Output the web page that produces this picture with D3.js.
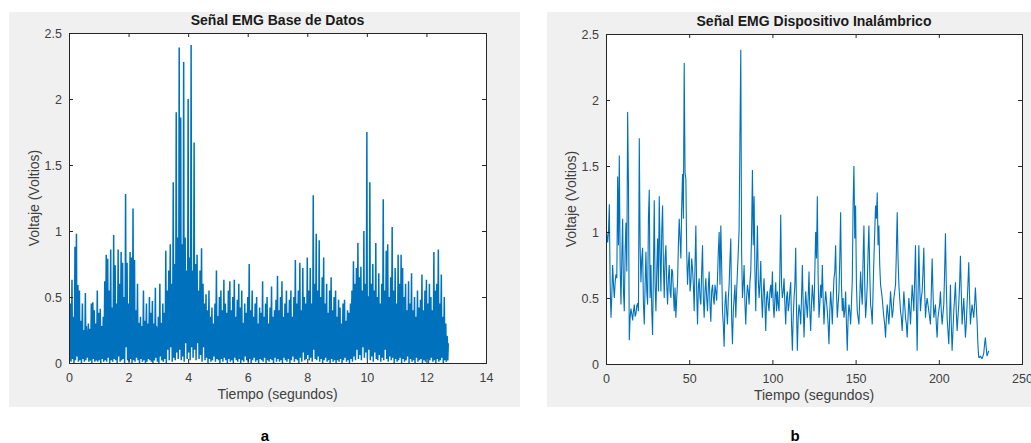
<!DOCTYPE html>
<html>
<head>
<meta charset="utf-8">
<script src="https://cdn.jsdelivr.net/npm/d3@7"></script>
<style>
  body { margin: 0; background: #fff; }
  svg { display: block; font-family: "Liberation Sans", Arial, sans-serif; }
</style>
</head>
<body>
<svg id="chart" width="1031" height="443"></svg>
<script>
// ---- data ----
var yTicks = [0, 0.5, 1, 1.5, 2, 2.5];
var xTicksA = [0, 2, 4, 6, 8, 10, 12, 14];
var xTicksB = [0, 50, 100, 150, 200, 250];

// panel a: rectified EMG, per 0.05 s bin: a peak, a trough, a smaller secondary peak
var stepA = 0.05;
var peaksA = [
	0.85,0.45,0.63,0.28,0.88,0.98,0.59,0.55,0.32,0.45,0.25,0.53,0.22,0.30,0.26,0.45,0.46,0.40,0.30,0.55,
	0.38,0.41,0.28,0.35,0.62,0.82,0.79,0.55,0.86,0.40,0.97,0.74,0.45,0.86,0.60,0.84,0.76,0.50,1.28,0.76,
	0.45,0.84,0.80,1.17,0.78,0.40,0.60,0.30,0.35,0.28,0.55,0.32,0.45,0.30,0.50,0.38,0.47,0.30,0.57,0.25,
	0.35,0.60,0.30,0.45,0.38,0.85,0.55,0.70,0.90,0.60,1.37,0.75,1.90,0.95,2.39,1.86,0.90,2.28,0.95,0.70,
	2.00,0.80,2.41,0.70,1.67,0.75,0.82,0.55,0.70,0.87,0.60,0.45,0.52,0.40,0.55,0.35,0.42,0.30,0.45,0.70,
	0.35,0.50,0.55,0.40,0.63,0.45,0.38,0.55,0.62,0.40,0.50,0.63,0.35,0.48,0.60,0.42,0.55,0.30,0.45,0.38,
	0.50,0.75,0.40,0.55,0.35,0.45,0.50,0.30,0.42,0.38,0.62,0.35,0.45,0.50,0.30,0.42,0.58,0.35,0.40,0.48,
	0.66,0.40,0.50,0.62,0.35,0.45,0.55,0.38,0.48,0.55,0.35,0.50,0.78,0.45,0.55,0.76,0.40,0.72,0.50,0.45,
	0.80,0.55,0.72,0.45,1.27,0.60,0.98,0.55,0.93,0.50,0.65,0.80,0.45,0.60,0.38,0.55,0.65,0.40,0.50,0.55,
	0.35,0.48,0.42,0.30,0.45,0.48,0.32,0.40,0.38,0.45,0.55,0.77,0.60,0.72,0.91,0.65,0.73,0.55,1.00,0.60,
	1.75,0.50,1.37,0.60,0.75,0.55,0.91,0.50,0.68,0.45,0.60,1.24,0.55,0.85,0.90,0.50,0.65,1.03,0.55,0.72,
	0.45,0.82,0.60,0.82,0.72,0.50,0.60,0.40,0.62,0.45,0.68,0.40,0.50,0.35,0.55,0.42,0.48,0.67,0.40,0.55,
	0.63,0.45,0.60,0.50,0.40,0.84,0.55,0.60,0.86,0.45,0.67,0.35,0.50,0.30,0.20
];
var troughsA = [
	0.02,0.01,0.03,0.00,0.02,0.05,0.01,0.02,0.00,0.03,0.01,0.02,0.04,0.01,0.02,0.00,0.03,0.01,0.02,0.01,
	0.02,0.00,0.03,0.01,0.02,0.01,0.04,0.00,0.02,0.01,0.03,0.02,0.00,0.05,0.01,0.02,0.03,0.00,0.12,0.02,
	0.01,0.03,0.00,0.02,0.01,0.04,0.02,0.00,0.03,0.01,0.02,0.00,0.01,0.03,0.02,0.01,0.00,0.02,0.04,0.01,
	0.00,0.05,0.02,0.01,0.03,0.00,0.10,0.02,0.12,0.01,0.04,0.02,0.08,0.03,0.10,0.02,0.05,0.01,0.15,0.03,
	0.08,0.02,0.12,0.04,0.10,0.02,0.15,0.03,0.06,0.01,0.12,0.02,0.04,0.00,0.03,0.01,0.02,0.05,0.01,0.03,
	0.02,0.00,0.03,0.01,0.04,0.02,0.00,0.03,0.01,0.02,0.00,0.04,0.02,0.01,0.03,0.00,0.02,0.01,0.05,0.02,
	0.01,0.03,0.00,0.02,0.04,0.01,0.02,0.00,0.03,0.02,0.01,0.04,0.00,0.02,0.01,0.03,0.02,0.00,0.04,0.01,
	0.03,0.01,0.02,0.00,0.04,0.02,0.01,0.03,0.00,0.02,0.05,0.01,0.03,0.02,0.00,0.04,0.01,0.08,0.02,0.03,
	0.06,0.02,0.04,0.01,0.10,0.03,0.02,0.05,0.01,0.03,0.00,0.02,0.04,0.01,0.02,0.00,0.03,0.01,0.02,0.00,
	0.02,0.01,0.03,0.00,0.02,0.04,0.01,0.02,0.00,0.03,0.01,0.05,0.02,0.10,0.03,0.06,0.02,0.12,0.04,0.08,
	0.03,0.10,0.02,0.05,0.01,0.08,0.03,0.02,0.06,0.01,0.04,0.02,0.10,0.03,0.01,0.05,0.02,0.04,0.00,0.03,
	0.01,0.02,0.04,0.00,0.03,0.01,0.02,0.05,0.00,0.03,0.01,0.02,0.00,0.04,0.01,0.02,0.03,0.00,0.02,0.01,
	0.03,0.00,0.02,0.04,0.01,0.02,0.00,0.03,0.01,0.02,0.04,0.00,0.02,0.01,0.02
];
var midA = [
	0.30,0.20,0.35,0.18,0.40,0.45,0.25,0.30,0.18,0.22,0.15,0.28,0.12,0.20,0.15,0.25,0.30,0.22,0.18,0.28,
	0.22,0.25,0.18,0.20,0.35,0.40,0.38,0.30,0.42,0.25,0.40,0.35,0.28,0.40,0.32,0.38,0.35,0.28,0.30,0.35,
	0.28,0.38,0.35,0.40,0.35,0.25,0.30,0.20,0.22,0.18,0.28,0.20,0.25,0.18,0.28,0.22,0.25,0.18,0.28,0.15,
	0.20,0.30,0.18,0.28,0.25,0.40,0.32,0.38,0.45,0.35,0.50,0.40,0.55,0.45,0.60,0.50,0.45,0.55,0.48,0.40,
	0.55,0.45,0.60,0.40,0.50,0.42,0.45,0.35,0.40,0.42,0.35,0.28,0.30,0.25,0.30,0.22,0.25,0.20,0.28,0.35,
	0.22,0.28,0.30,0.25,0.32,0.28,0.22,0.30,0.32,0.25,0.28,0.32,0.22,0.28,0.30,0.25,0.30,0.20,0.26,0.22,
	0.28,0.35,0.25,0.30,0.22,0.26,0.28,0.20,0.25,0.22,0.30,0.22,0.26,0.28,0.20,0.25,0.30,0.22,0.25,0.28,
	0.32,0.25,0.28,0.32,0.22,0.26,0.30,0.24,0.28,0.30,0.22,0.28,0.35,0.28,0.30,0.35,0.25,0.35,0.28,0.26,
	0.38,0.30,0.35,0.28,0.45,0.32,0.40,0.30,0.38,0.28,0.32,0.35,0.26,0.30,0.22,0.28,0.30,0.24,0.26,0.28,
	0.22,0.26,0.24,0.20,0.25,0.26,0.20,0.24,0.22,0.26,0.30,0.38,0.32,0.36,0.42,0.34,0.38,0.30,0.45,0.34,
	0.50,0.30,0.45,0.32,0.38,0.30,0.42,0.28,0.35,0.26,0.32,0.45,0.30,0.38,0.40,0.28,0.34,0.40,0.30,0.35,
	0.26,0.38,0.30,0.38,0.35,0.28,0.30,0.24,0.32,0.26,0.34,0.24,0.28,0.22,0.30,0.25,0.28,0.32,0.24,0.28,
	0.32,0.26,0.30,0.28,0.24,0.38,0.30,0.32,0.38,0.26,0.32,0.22,0.28,0.20,0.15
];

// panel b: wireless device signal, samples at whole seconds and at the half seconds between
var voltB = [
	1.05,0.92,1.21,0.35,0.75,0.50,0.68,1.42,1.58,0.45,
	1.10,0.40,1.07,1.91,0.18,0.42,0.33,0.45,0.38,0.46,
	1.71,0.62,0.88,0.30,0.85,0.45,1.32,0.75,0.22,1.24,
	0.40,0.95,1.27,0.55,1.20,0.50,0.90,0.45,0.75,0.50,
	0.70,0.40,0.35,0.62,1.10,0.80,1.44,2.28,1.40,0.60,
	0.85,0.62,0.72,0.40,1.05,0.30,0.65,0.45,0.90,0.35,
	0.65,0.40,0.70,0.32,0.60,0.45,0.55,0.65,1.00,1.05,
	0.40,0.13,0.55,0.30,0.60,0.95,0.15,0.50,0.35,0.70,
	1.02,2.38,0.50,0.75,0.30,0.60,0.45,0.70,1.47,1.27,
	0.40,1.05,0.50,0.78,0.35,0.65,0.25,0.55,0.40,0.60,
	0.70,0.35,0.62,0.55,0.40,1.13,0.50,0.65,0.30,0.55,
	0.45,0.62,0.10,0.50,0.88,0.10,0.45,0.30,0.75,0.20,
	0.55,0.35,0.70,0.25,0.60,0.40,1.00,1.27,0.35,0.60,
	0.75,0.30,0.55,0.40,0.15,0.55,0.30,0.65,0.90,0.35,
	0.55,1.15,0.40,0.35,0.55,0.10,0.45,0.30,0.63,1.50,
	1.20,0.40,0.30,0.70,0.45,1.05,0.35,0.60,1.05,0.45,
	0.30,0.80,1.20,1.30,1.05,0.60,0.50,0.35,0.20,0.45,
	0.30,0.55,0.35,0.50,0.60,1.15,0.60,0.40,0.25,0.55,
	0.35,0.20,0.50,0.30,0.60,0.40,0.90,0.10,0.90,0.40,
	0.55,0.88,0.35,0.50,0.40,0.30,0.80,0.35,0.45,0.20,
	0.40,0.55,0.30,0.45,0.99,0.35,0.15,0.60,0.10,0.40,
	0.62,0.25,0.45,0.82,0.30,0.50,0.20,0.45,0.77,0.30,
	0.45,0.35,0.58,0.32,0.05,0.06,0.04,0.08,0.20,0.06,0.10
];
var voltBHalf = [
	0.98,1.00,0.60,0.52,0.60,0.62,0.65,0.90,0.75,0.80,
	0.55,0.85,0.70,1.36,0.35,0.38,0.40,0.36,0.44,0.40,
	0.90,0.80,0.45,0.60,0.55,1.10,0.50,0.40,0.70,0.60,
	0.70,0.55,0.85,1.00,0.75,0.80,0.60,0.65,0.55,0.72,
	0.55,0.58,0.50,0.90,0.95,1.20,1.10,1.45,0.85,0.75,
	0.55,0.80,0.60,0.75,0.55,0.58,0.50,0.70,0.50,0.55,
	0.50,0.58,0.45,0.55,0.50,0.60,0.48,0.85,0.60,0.75,
	0.30,0.45,0.40,0.50,0.80,0.35,0.40,0.60,0.55,0.85,
	1.73,0.85,0.60,0.45,0.50,0.55,0.62,1.00,0.90,0.70,
	0.75,0.65,0.60,0.50,0.55,0.45,0.50,0.45,0.55,0.50,
	0.45,0.50,0.40,0.45,0.70,0.60,0.55,0.45,0.50,0.40,
	0.55,0.30,0.35,0.60,0.40,0.35,0.40,0.50,0.45,0.40,
	0.45,0.50,0.40,0.45,0.50,0.70,0.80,0.65,0.45,0.50,
	0.50,0.45,0.48,0.30,0.40,0.45,0.50,0.70,0.55,0.45,
	0.80,0.60,0.50,0.40,0.30,0.35,0.40,0.45,1.20,0.95,
	0.60,0.35,0.50,0.55,0.80,0.60,0.45,0.85,0.70,0.40,
	0.55,1.00,1.10,0.90,0.75,0.55,0.42,0.30,0.35,0.38,
	0.42,0.45,0.40,0.55,0.85,0.80,0.50,0.35,0.40,0.45,
	0.30,0.35,0.42,0.45,0.50,0.65,0.45,0.50,0.60,0.50,
	0.70,0.55,0.45,0.45,0.35,0.55,0.55,0.40,0.30,0.35,
	0.45,0.40,0.38,0.70,0.60,0.25,0.35,0.30,0.25,0.50,
	0.40,0.35,0.60,0.55,0.40,0.35,0.30,0.60,0.50,0.38,
	0.40,0.45,0.45,0.15,0.05,0.05,0.06,0.15,0.12,0.08
];

var svg = d3.select("#chart");
var axisColor = "#262626";
var lineColor = "#0072BD";

var pointsA = [];
peaksA.forEach(function(p, i) {
	var t = i * stepA;
	pointsA.push([t, p]);
	pointsA.push([t + stepA / 3, troughsA[i]]);
	pointsA.push([t + 2 * stepA / 3, midA[i]]);
});
var pointsB = [];
voltB.forEach(function(v, i) {
	pointsB.push([i, v]);
	if (i < voltBHalf.length) pointsB.push([i + 0.5, voltBHalf[i]]);
});

var panels = [
	{bg: [9, 12, 511, 395], box: [69, 33, 486, 363], xDomain: [0, 14], xTicks: xTicksA, lw: 1.5,
	 title: "Señal EMG Base de Datos", letter: "a", letterX: 265, points: pointsA},
	{bg: [547, 12, 484, 395], box: [606, 34, 1022, 364], xDomain: [0, 250], xTicks: xTicksB, lw: 1.1,
	 title: "Señal EMG Dispositivo Inalámbrico", letter: "b", letterX: 795, points: pointsB}
];

panels.forEach(function(p, k) {
	var g = svg.append("g");

	g.append("rect")
		.attr("x", p.bg[0]).attr("y", p.bg[1])
		.attr("width", p.bg[2]).attr("height", p.bg[3])
		.attr("fill", "#f0f0f0");

	var x0 = p.box[0], y0 = p.box[1], x1 = p.box[2], y1 = p.box[3];
	g.append("rect")
		.attr("x", x0).attr("y", y0)
		.attr("width", x1 - x0).attr("height", y1 - y0)
		.attr("fill", "#fff");

	var x = d3.scaleLinear().domain(p.xDomain).range([x0, x1]);
	var y = d3.scaleLinear().domain([0, 2.5]).range([y1, y0]);

	var clipId = "clip" + k;
	g.append("clipPath").attr("id", clipId)
		.append("rect")
		.attr("x", x0).attr("y", y0 - 1)
		.attr("width", x1 - x0).attr("height", y1 - y0 + 1);

	g.append("path")
		.datum(p.points)
		.attr("clip-path", "url(#" + clipId + ")")
		.attr("fill", "none")
		.attr("stroke", lineColor)
		.attr("stroke-width", p.lw)
		.attr("stroke-linejoin", "bevel")
		.attr("d", d3.line().x(function(d) { return x(d[0]); }).y(function(d) { return y(d[1]); }));

	// axes, ticks pointing inward like matlab
	var fmt = function(d) { return d; };
	var axes = [
		{a: d3.axisBottom(x).tickValues(p.xTicks).tickFormat(fmt).tickPadding(10), t: "translate(0," + y1 + ")"},
		{a: d3.axisLeft(y).tickValues(yTicks).tickFormat(fmt).tickPadding(7), t: "translate(" + x0 + ",0)"},
		{a: d3.axisTop(x).tickValues(p.xTicks).tickFormat(""), t: "translate(0," + y0 + ")"},
		{a: d3.axisRight(y).tickValues(yTicks).tickFormat(""), t: "translate(" + x1 + ",0)"}
	];
	axes.forEach(function(ax) {
		var ag = g.append("g")
			.attr("transform", ax.t)
			.call(ax.a.tickSizeInner(-4).tickSizeOuter(0));
		ag.select(".domain").remove();
		ag.selectAll("line").attr("stroke", axisColor);
		ag.selectAll("text")
			.attr("fill", "#404040")
			.attr("font-size", 12.5)
			.attr("font-family", "Liberation Sans, Arial, sans-serif");
	});

	g.append("rect")
		.attr("x", x0).attr("y", y0)
		.attr("width", x1 - x0).attr("height", y1 - y0)
		.attr("fill", "none")
		.attr("stroke", axisColor)
		.attr("stroke-width", 1)
		.attr("shape-rendering", "crispEdges");

	var cx = (x0 + x1) / 2;
	g.append("text")
		.attr("x", cx).attr("y", y0 - 8)
		.attr("text-anchor", "middle")
		.attr("font-weight", "bold")
		.attr("font-size", 14)
		.attr("fill", "#1a1a1a")
		.text(p.title);

	g.append("text")
		.attr("x", cx).attr("y", y1 + 36)
		.attr("text-anchor", "middle")
		.attr("font-size", 14)
		.attr("fill", "#404040")
		.text("Tiempo (segundos)");

	g.append("text")
		.attr("transform", "translate(" + (x0 - 30) + "," + ((y0 + y1) / 2) + ") rotate(-90)")
		.attr("text-anchor", "middle")
		.attr("font-size", 14)
		.attr("fill", "#404040")
		.text("Voltaje (Voltios)");

	g.append("text")
		.attr("x", p.letterX).attr("y", 441)
		.attr("text-anchor", "middle")
		.attr("font-weight", "bold")
		.attr("font-size", 15)
		.attr("fill", "#000")
		.text(p.letter);
});
</script>
</body>
</html>
